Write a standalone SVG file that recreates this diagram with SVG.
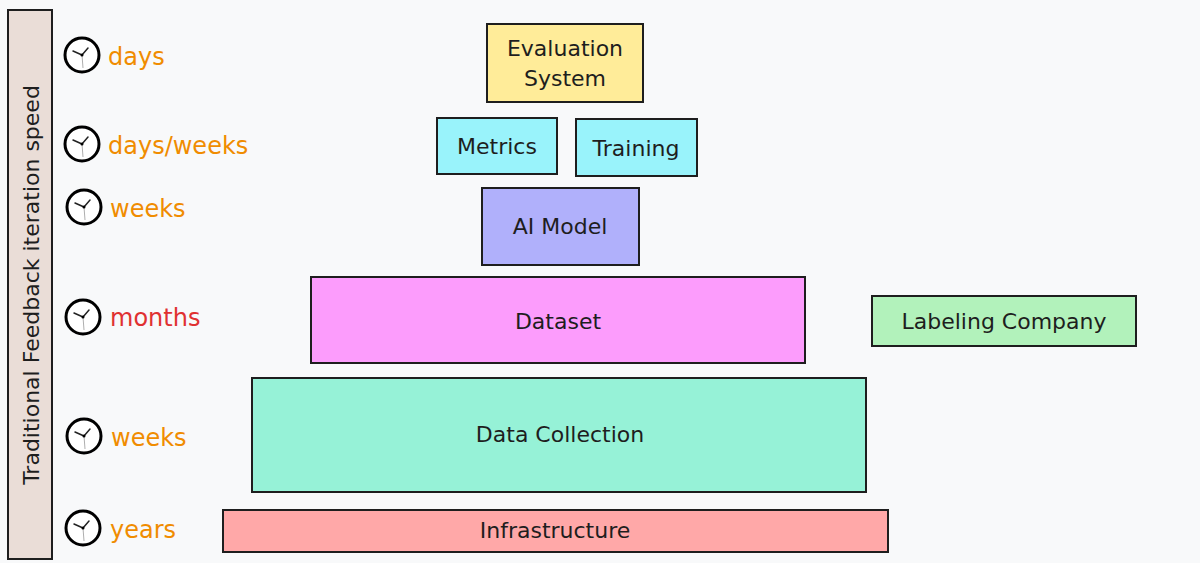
<svg xmlns="http://www.w3.org/2000/svg" width="1200" height="563" viewBox="0 0 1200 563">
<defs>
<style>
.b{stroke:#1e1e1e;stroke-width:2}
.t{font-family:"DejaVu Sans",sans-serif;font-size:22px;fill:#1e1e1e;text-anchor:middle;dominant-baseline:central}
.s{font-family:"DejaVu Sans",sans-serif;font-size:24px;dominant-baseline:central}
.o{fill:#f08c00}.r{fill:#e03131}
.cf{fill:#fff;stroke:#000;stroke-width:3}
.h{stroke:#222;stroke-width:1.5;stroke-linecap:round}
.sec{stroke:#999;stroke-width:0.8}
</style>
<g id="clock">
<circle r="17" class="cf"/>
<line x1="0" y1="0" x2="-9" y2="-4" class="h"/>
<line x1="0" y1="0" x2="6" y2="-7" class="h"/>
<line x1="0" y1="0" x2="1" y2="13" class="sec"/>
<circle r="1.5" fill="#000"/>
</g>
</defs>
<rect width="1200" height="563" fill="#f8f9fa"/>
<g id="axis">
<rect x="8" y="10" width="44" height="549" fill="#eaddd7" class="b"/>
<text class="t" transform="translate(31,285) rotate(-90)" font-size="25">Traditional Feedback iteration speed</text>
</g>
<g id="clocks">
<use href="#clock" x="82" y="55"/><text class="s o" x="108" y="57">days</text>
<use href="#clock" x="82" y="144"/><text class="s o" x="108" y="146">days/weeks</text>
<use href="#clock" x="84" y="207"/><text class="s o" x="110" y="209">weeks</text>
<use href="#clock" x="83" y="317"/><text class="s r" x="110" y="318">months</text>
<use href="#clock" x="84" y="436"/><text class="s o" x="111" y="438">weeks</text>
<use href="#clock" x="83" y="528"/><text class="s o" x="110" y="530">years</text>
</g>
<g id="eval"><rect x="487" y="24" width="156" height="78" fill="#ffec99" class="b"/><text class="t" x="565" y="48">Evaluation</text><text class="t" x="565" y="78">System</text></g>
<g id="metrics"><rect x="437" y="118" width="120" height="56" fill="#99f3fb" class="b"/><text class="t" x="497" y="146">Metrics</text></g>
<g id="training"><rect x="576" y="119" width="121" height="57" fill="#99f3fb" class="b"/><text class="t" x="636" y="148">Training</text></g>
<g id="aimodel"><rect x="482" y="188" width="157" height="77" fill="#b0b0fb" class="b"/><text class="t" x="560" y="226">AI Model</text></g>
<g id="dataset"><rect x="311" y="277" width="494" height="86" fill="#fc9cfc" class="b"/><text class="t" x="558" y="321">Dataset</text></g>
<g id="labeling"><rect x="872" y="296" width="264" height="50" fill="#b2f2bb" class="b"/><text class="t" x="1004" y="321">Labeling Company</text></g>
<g id="datacollection"><rect x="252" y="378" width="614" height="114" fill="#96f2d7" class="b"/><text class="t" x="560" y="434">Data Collection</text></g>
<g id="infra"><rect x="223" y="510" width="665" height="42" fill="#ffa8a8" class="b"/><text class="t" x="555" y="530">Infrastructure</text></g>
<g id="connectors"/>
</svg>
